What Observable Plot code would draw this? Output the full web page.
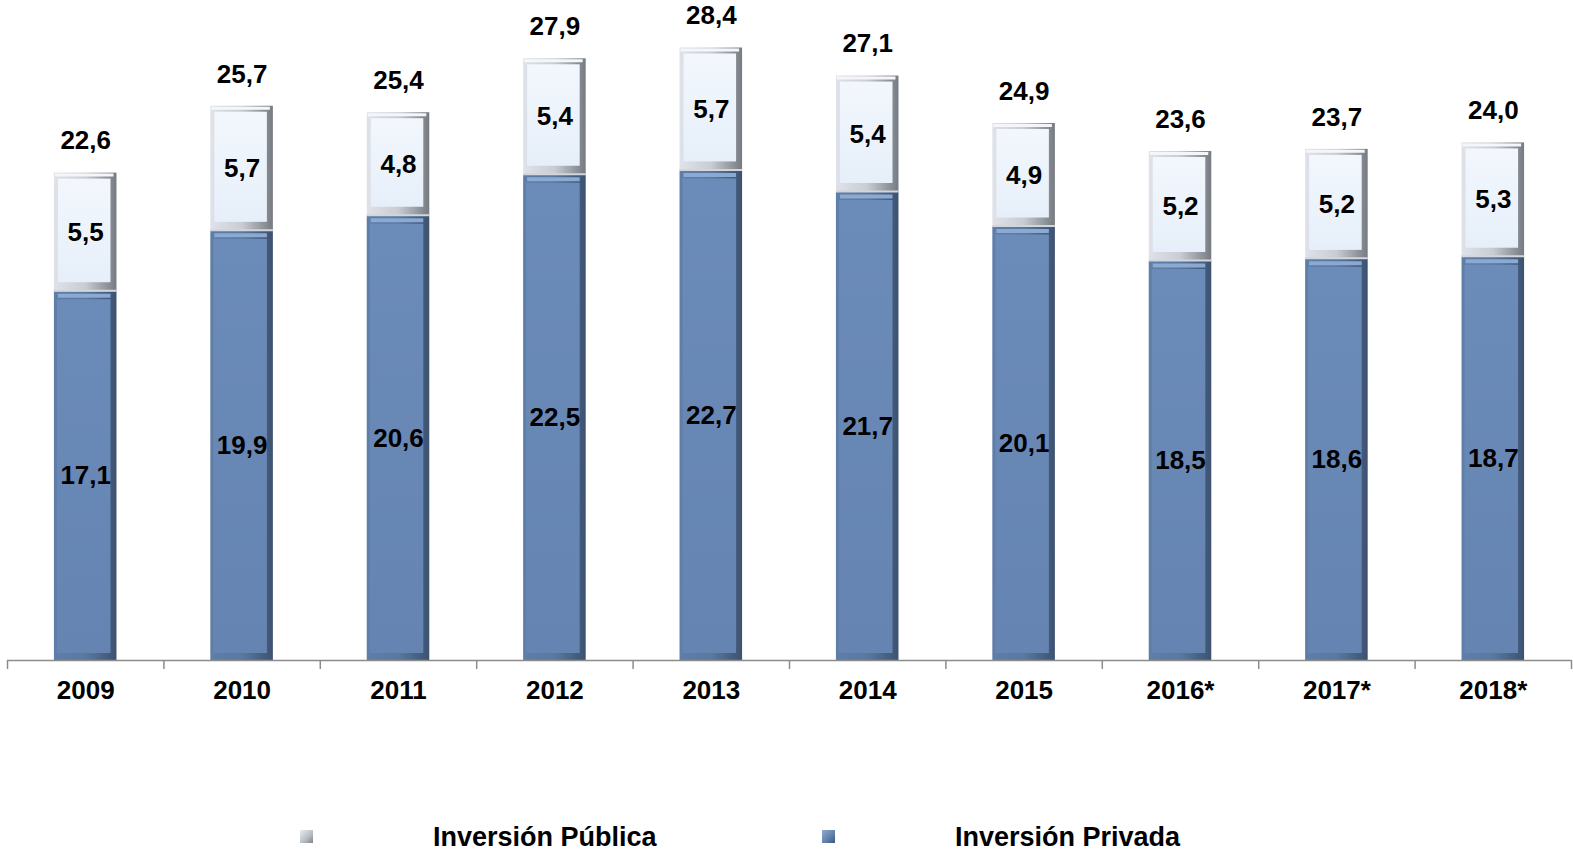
<!DOCTYPE html>
<html>
<head>
<meta charset="utf-8">
<script src="https://cdn.jsdelivr.net/npm/d3@7"></script>
<script src="https://cdn.jsdelivr.net/npm/@observablehq/plot@0.6"></script>
<style>
  html, body { margin: 0; padding: 0; background: #fff; }
  #wrap { position: relative; width: 1573px; height: 851px; overflow: hidden; }
  .legend { position: absolute; top: 821px; font: bold 27px "Liberation Sans", Arial, sans-serif; color: #000; white-space: nowrap; line-height: 32px; }
  .sw { position: absolute; top: 830px; width: 13px; height: 13px; }
</style>
</head>
<body>
<div id="wrap"></div>
<script>
const years = ["2009", "2010", "2011", "2012", "2013", "2014", "2015", "2016*", "2017*", "2018*"];
const privada = [17.1, 19.9, 20.6, 22.5, 22.7, 21.7, 20.1, 18.5, 18.6, 18.7];
const publica = [5.5, 5.7, 4.8, 5.4, 5.7, 5.4, 4.9, 5.2, 5.2, 5.3];
const totals = [22.6, 25.7, 25.4, 27.9, 28.4, 27.1, 24.9, 23.6, 23.7, 24.0];
const seriesNames = ["Inversión Pública", "Inversión Privada"];

const data = years.map((year, i) => ({
  i, year, privada: privada[i], publica: publica[i], total: totals[i],
  x1: i + 0.3, x2: i + 0.7, xc: i + 0.5
}));
const fmt = v => d3.format(".1f")(v).replace(".", ",");
const FONT = '"Liberation Sans", Arial, sans-serif';

const chart = Plot.plot({
  width: 1573,
  height: 851,
  marginLeft: 7,
  marginRight: 2,
  marginTop: 13,
  marginBottom: 191,
  style: { fontFamily: FONT, background: "transparent", overflow: "visible" },
  x: { domain: [0, 10], axis: null },
  y: { domain: [0, 30], axis: null },
  marks: [
    // private segments (outer bevel frame + inner face)
    Plot.rectY(data, { x1: "x1", x2: "x2", y1: 0, y2: "privada", fill: "url(#privOuter)" }),
    Plot.rectY(data, { x1: "x1", x2: "x2", y1: 0, y2: "privada", fill: "url(#privInner)",
      insetLeft: 3, insetRight: 6, insetTop: 8, insetBottom: 7 }),
    Plot.ruleY(data, { y: "privada", x1: "x1", x2: "x2", stroke: "#8aa9d3", strokeWidth: 4, dy: 4, insetLeft: 4, insetRight: 6 }),
    // public segments
    Plot.rectY(data, { x1: "x1", x2: "x2", y1: "privada", y2: "total", fill: "url(#pubOuter)" }),
    Plot.rectY(data, { x1: "x1", x2: "x2", y1: "privada", y2: "total", fill: "url(#pubInner)",
      insetLeft: 4, insetRight: 6, insetTop: 6, insetBottom: 9 }),
    Plot.ruleY(data, { y: "total", x1: "x1", x2: "x2", stroke: "#f4f6f9", strokeWidth: 3, dy: 2, insetLeft: 1, insetRight: 3 }),
    Plot.ruleY(data, { y: "privada", x1: "x1", x2: "x2", stroke: "#d2d6dc", strokeWidth: 2, dy: -1 }),
    // axis baseline and separators
    Plot.ruleY([0], { stroke: "#8c8c8c", strokeWidth: 1.5 }),
    Plot.axisX({ ticks: d3.range(11), tickFormat: () => "", tickSize: 9, stroke: "#8c8c8c", strokeWidth: 1.5, label: null }),
    // category labels
    Plot.text(data, { x: "xc", y: 0, text: "year", dy: 30, fontSize: 26, fontWeight: "bold", fill: "#000" }),
    // value labels
    Plot.text(data, { x: "xc", y: d => d.privada / 2, text: d => fmt(d.privada), fontSize: 26, fontWeight: "bold", fill: "#000" }),
    Plot.text(data, { x: "xc", y: d => (d.privada + d.total) / 2, text: d => fmt(d.publica), fontSize: 26, fontWeight: "bold", fill: "#000" }),
    Plot.text(data, { x: "xc", y: "total", text: d => fmt(d.total), dy: -32, fontSize: 26, fontWeight: "bold", fill: "#000" })
  ]
});

chart.insertAdjacentHTML("afterbegin", `
<defs>
  <linearGradient id="privOuter" x1="0" x2="1" y1="0" y2="0">
    <stop offset="0" stop-color="#5f7ea8"/>
    <stop offset="0.5" stop-color="#5a799f"/>
    <stop offset="1" stop-color="#3d5270"/>
  </linearGradient>
  <linearGradient id="privInner" x1="0" x2="0" y1="0" y2="1">
    <stop offset="0" stop-color="#6b8bb8"/>
    <stop offset="1" stop-color="#6584b1"/>
  </linearGradient>
  <linearGradient id="pubOuter" x1="0" x2="1" y1="0" y2="0">
    <stop offset="0" stop-color="#dfe3e9"/>
    <stop offset="0.5" stop-color="#c9cdd3"/>
    <stop offset="1" stop-color="#767b82"/>
  </linearGradient>
  <linearGradient id="pubInner" x1="0" x2="0" y1="0" y2="1">
    <stop offset="0" stop-color="#f3f7fd"/>
    <stop offset="1" stop-color="#e6eff9"/>
  </linearGradient>
</defs>`);

const wrap = document.getElementById("wrap");
wrap.appendChild(chart);
chart.style.position = "absolute";
chart.style.left = "0";
chart.style.top = "0";

const legendItems = [
  { name: seriesNames[0], swX: 300, textX: 433, bg: "linear-gradient(135deg, #e8edf3 0%, #b7bcc3 60%, #7d838b 100%)" },
  { name: seriesNames[1], swX: 822, textX: 955, bg: "linear-gradient(135deg, #8ea9cf 0%, #5f7fab 60%, #3f5573 100%)" }
];
for (const it of legendItems) {
  const sw = document.createElement("div");
  sw.className = "sw";
  sw.style.left = it.swX + "px";
  sw.style.background = it.bg;
  wrap.appendChild(sw);
  const t = document.createElement("div");
  t.className = "legend";
  t.style.left = it.textX + "px";
  t.textContent = it.name;
  wrap.appendChild(t);
}
</script>
</body>
</html>
